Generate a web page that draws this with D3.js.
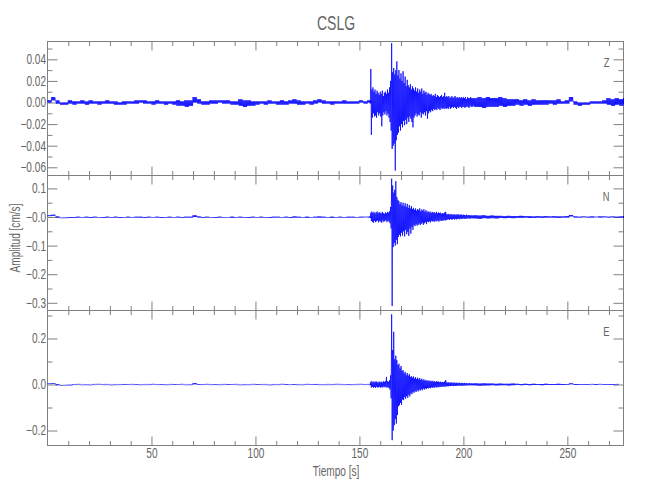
<!DOCTYPE html>
<html><head><meta charset="utf-8">
<script src="https://cdn.jsdelivr.net/npm/d3@7"></script>
<style>
html,body{margin:0;padding:0;background:#fff;}
svg{display:block;}
</style></head><body>
<svg id="c" width="650" height="500"></svg>
<script>
// ---------------- DATA (amplitudes in 10^-3 cm/s, min/max per time bin) ----------------
const unit = 0.001;
const earlyStart = 0, earlyStep = 2;     // s
const eventStart = 155, eventStep = 0.5; // s
const lateStart = 205, lateStep = 2;     // s

const zEarlyHi = [2,5,2,0,0,2,1,1,2,1, 2,1,1,1,2,1,1,0,1,1, 1,2,2,2,1,1,2,1,1,1, 1,2,1,2,2,5,3,1,1,2, 2,2,2,2,1,1,3,2,2,1, 1,1,1,2,1,1,2,1,2,3, 2,1,1,1,2,3,2,1,1,1, 1,2,1,1,1,2,1,2];
const zEarlyLo = [0,2,-1,-2,-2,-1,-2,-1,-1,-2, -1,-1,-2,-1,-1,-1,-2,-2,-2,-1, -1,-1,0,-1,-1,-2,-1,-1,-2,-1, -2,-3,-3,-4,-3,0,-1,-2,-2,-1, -1,0,-1,-1,-2,-2,-3,-4,-3,-3, -2,-1,-2,-1,-1,-2,-2,-2,-1,-1, -2,-2,-1,-2,-1,0,-1,-1,-2,-1, -1,-1,-1,-1,-1,0,-1,0];
const zEventHi = [1,31,12,14,10,12,8,11,9,7, 10,8,11,6,9,10,8,12,9,14, 20,55,28,32,26,30,38,25,30,22, 27,20,29,18,24,15,21,16,14,17, 12,15,13,11,14,10,13,9,12,10, 13,8,11,9,10,7,9,8,7,8, 6,7,6,8,5,7,6,5,6,7, 5,6,9,5,6,5,6,4,5,6, 4,5,6,4,5,4,5,4,5,4, 5,4,5,3,5,4,4,5,4,4];
const zEventLo = [-1,-30,-14,-10,-13,-12,-14,-9,-12,-10, -13,-22,-12,-9,-11,-8,-12,-10,-14,-18, -26,-43,-40,-38,-63,-35,-30,-28,-22,-26, -20,-23,-17,-21,-16,-20,-14,-18,-13,-15, -18,-23,-14,-12,-10,-13,-11,-12,-9,-14, -10,-11,-9,-12,-8,-15,-10,-8,-9,-7, -8,-6,-7,-6,-7,-5,-6,-7,-5,-6, -5,-6,-5,-6,-5,-6,-4,-6,-5,-4, -5,-4,-5,-6,-4,-5,-4,-4,-5,-4, -4,-5,-4,-4,-4,-5,-3,-4,-4,-3];
const zLateHi = [4,5,4,5,4,4,5,4,3,3, 3,2,3,2,3,2,2,2,2,2, 3,1,2,5,1,0,0,0,1,1, 1,2,4,3,4,3,4];
const zLateLo = [-4,-4,-5,-4,-4,-4,-3,-4,-3,-3, -2,-3,-2,-3,-2,-2,-2,-2,-1,-2, -1,-1,-1,1,-2,-3,-2,-2,-1,-1, -1,-1,-2,-3,-2,-3,-1];

const nEarlyHi = [6,8,2,-2,-2,0,0,1,0,1, 0,1,0,0,1,0,1,0,0,1, 0,1,1,0,1,0,1,0,0,1, 0,1,0,1,1,6,2,0,1,0, 0,1,0,0,1,0,1,0,0,1, 0,1,0,0,1,1,0,1,0,2, 1,0,1,0,1,2,1,0,1,0, 1,0,1,1,0,1,1,1];
const nEarlyLo = [3,4,-2,-4,-4,-3,-3,-2,-2,-2, -3,-2,-2,-3,-2,-2,-2,-3,-2,-2, -2,-2,-2,-3,-2,-2,-2,-3,-2,-2, -2,-2,-3,-2,-2,0,-2,-3,-2,-2, -3,-2,-2,-2,-3,-2,-2,-2,-3,-2, -2,-2,-2,-3,-2,-2,-2,-2,-3,-2, -2,-2,-3,-2,-2,-2,-2,-2,-3,-2, -2,-2,-2,-2,-2,-2,-1,-2];
const nEventHi = [2,15,19,14,18,12,16,19,13,17, 15,12,18,14,11,16,13,18,15,20, 35,134,110,85,95,125,70,60,55,45, 52,40,50,38,48,35,46,32,42,30, 38,28,32,25,30,22,28,24,30,20, 26,22,27,18,24,17,20,16,19,14, 18,15,17,13,18,12,16,14,15,11, 14,12,16,18,10,9,11,8,10,9, 8,10,7,9,8,10,7,8,9,6, 8,7,6,8,5,7,6,5,6,5];
const nEventLo = [-2,-14,-17,-20,-13,-18,-15,-12,-19,-14, -16,-20,-12,-17,-14,-11,-18,-13,-16,-22, -40,-311,-105,-90,-100,-80,-95,-70,-62,-68, -55,-65,-50,-68,-45,-60,-52,-66,-40,-58, -35,-45,-28,-32,-25,-30,-27,-22,-28,-24, -20,-27,-22,-18,-25,-16,-18,-15,-19,-13, -16,-14,-17,-12,-15,-13,-16,-11,-14,-12, -13,-10,-12,-11,-9,-8,-10,-7,-9,-8, -7,-9,-6,-8,-7,-6,-8,-5,-7,-6, -5,-7,-5,-6,-4,-5,-6,-4,-5,-4];
const nLateHi = [6,5,6,4,5,4,4,3,4,3, 3,4,3,3,2,3,2,3,2,3, 2,2,3,7,2,1,2,1,2,1, 2,2,1,2,1,2,2];
const nLateLo = [-5,-6,-4,-5,-4,-5,-3,-4,-3,-4, -3,-3,-2,-3,-3,-2,-3,-2,-2,-2, -3,-2,-2,2,-2,-2,-1,-2,-2,-1, -2,-1,-2,-1,-2,-1,-2];

const eEarlyHi = [4,6,1,-2,-2,-1,0,1,0,1, 0,1,1,0,1,0,1,0,1,0, 1,1,0,1,0,1,0,1,0,1, 1,0,1,0,1,6,2,0,1,0, 1,0,1,1,0,1,0,1,0,1, 1,0,1,0,1,0,1,1,0,2, 1,0,1,0,1,1,0,1,0,1, 1,0,1,0,1,1,0,1];
const eEarlyLo = [2,3,-3,-4,-4,-4,-2,-1,-2,-1, -2,-1,-1,-2,-1,-2,-1,-1,-2,-1, -1,-2,-1,-1,-2,-1,-1,-2,-1,-1, -2,-1,-1,-2,-1,1,-1,-2,-1,-1, -2,-1,-1,-2,-1,-1,-2,-1,-1,-1, -2,-1,-1,-2,-1,-1,-1,-2,-1,-1, -1,-2,-1,-1,-2,-1,-1,-1,-2,-1, -1,-1,-2,-1,-1,-1,-1,-1];
const eEventHi = [2,12,14,9,13,10,14,11,8,13, 10,12,9,14,11,15,33,14,12,18, 40,305,150,229,110,125,106,85,90,70, 80,60,62,48,55,40,50,38,45,33, 36,30,35,26,32,24,30,22,28,20, 25,18,22,16,20,15,18,14,17,13, 16,12,15,11,14,12,13,10,12,9, 11,10,13,19,9,8,10,7,9,8, 7,9,6,8,7,6,8,5,7,6, 5,7,5,6,4,5,6,4,5,4];
const eEventLo = [-2,-13,-10,-14,-11,-15,-9,-13,-12,-10, -14,-11,-13,-9,-12,-10,-14,-11,-16,-22, -60,-242,-200,-177,-150,-170,-133,-95,-90,-80, -88,-65,-68,-55,-62,-50,-58,-45,-52,-38, -42,-32,-36,-28,-33,-25,-30,-22,-27,-20, -25,-18,-22,-17,-20,-15,-17,-14,-16,-12, -15,-11,-14,-10,-13,-11,-12,-9,-11,-8, -10,-9,-8,-9,-7,-8,-6,-7,-6,-5, -7,-5,-6,-5,-6,-4,-5,-4,-6,-4, -5,-4,-5,-3,-4,-3,-4,-3,-4,-3];
const eLateHi = [5,4,5,4,4,3,4,3,3,4, 3,2,3,2,3,2,2,3,2,2, 3,2,2,5,2,2,1,2,1,2, 1,2,1,2,1];
const eLateLo = [-4,-5,-4,-4,-3,-4,-3,-3,-4,-3, -2,-3,-2,-3,-2,-2,-3,-2,-2,-2, -2,-2,-1,1,-2,-1,-2,-1,-1,-2, -1,-1,-2,-1,-1];

// axis ticks and labels
const channelNames = ["Z", "N", "E"];
const zTicks = [-0.06, -0.04, -0.02, 0, 0.02, 0.04];
const zTickLabels = ["\u22120.06", "\u22120.04", "\u22120.02", "0.00", "0.02", "0.04"];
const nTicks = [-0.3, -0.2, -0.1, 0, 0.1];
const nTickLabels = ["\u22120.3", "\u22120.2", "\u22120.1", "\u22120.0", "0.1"];
const eTicks = [-0.2, 0, 0.2];
const eTickLabels = ["\u22120.2", "0.0", "0.2"];
const xTicks = [50, 100, 150, 200, 250];
const xTickLabels = ["50", "100", "150", "200", "250"];
const titleText = "CSLG";
const xTitle = "Tiempo  [s]";
const yTitle = "Amplitud  [cm/s]";

// ---------------- LAYOUT ----------------
const FONT = '"Liberation Sans","Arial",sans-serif';
const AXIS = "#808080", TXT = "#666666", TRACE = "#0000ff";
const left = 47.5, right = 623.5;
const edges = [41.5, 175.5, 310.5, 445.5];
const tEnd = 277;

const svg = d3.select("#c");
const x = d3.scaleLinear().domain([0, tEnd]).range([left, right]);

function segs(eh, el, vh, vl, lh, ll) {
  return [
    {t0: earlyStart, dt: earlyStep, hi: eh, lo: el},
    {t0: eventStart, dt: eventStep, hi: vh, lo: vl},
    {t0: lateStart, dt: lateStep, hi: lh, lo: ll}
  ];
}

const panels = [
  { name: channelNames[0], domain: [-0.0676, 0.0565], ticks: zTicks, labels: zTickLabels, minorStep: 0.01,
    segs: segs(zEarlyHi, zEarlyLo, zEventHi, zEventLo, zLateHi, zLateLo) },
  { name: channelNames[1], domain: [-0.3269, 0.1451], ticks: nTicks, labels: nTickLabels, minorStep: 0.05,
    segs: segs(nEarlyHi, nEarlyLo, nEventHi, nEventLo, nLateHi, nLateLo) },
  { name: channelNames[2], domain: [-0.2652, 0.3217], ticks: eTicks, labels: eTickLabels, minorStep: 0.1,
    segs: segs(eEarlyHi, eEarlyLo, eEventHi, eEventLo, eLateHi, eLateLo) }
];

const xMinor = d3.range(10, tEnd, 10).filter(v => v % 50 !== 0);

function styleAxis(g) {
  g.select(".domain").remove();
  g.selectAll(".tick line").attr("stroke", AXIS).attr("stroke-width", 1);
  g.selectAll("text").attr("fill", TXT).attr("font-family", FONT).attr("font-size", 14);
}

panels.forEach((p, k) => {
  const top = edges[k], bottom = edges[k + 1];
  const y = d3.scaleLinear().domain(p.domain).range([bottom, top]);
  const g = svg.append("g");
  const minor = d3.range(Math.ceil(p.domain[0] / p.minorStep) * p.minorStep, p.domain[1], p.minorStep)
    .map(v => +v.toFixed(4)).filter(v => !p.ticks.some(t => Math.abs(t - v) < 1e-6));

  g.append("g").attr("transform", `translate(${left},0)`)
    .call(d3.axisLeft(y).tickValues(p.ticks).tickFormat((d, i) => p.labels[i]).tickSizeInner(-10).tickSizeOuter(0).tickPadding(1.5))
    .call(styleAxis);
  g.append("g").attr("transform", `translate(${left},0)`)
    .call(d3.axisLeft(y).tickValues(minor).tickFormat("").tickSizeInner(-5).tickSizeOuter(0))
    .call(styleAxis);
  g.append("g").attr("transform", `translate(${right},0)`)
    .call(d3.axisRight(y).tickValues(p.ticks).tickFormat("").tickSizeInner(-10).tickSizeOuter(0))
    .call(styleAxis);
  g.append("g").attr("transform", `translate(${right},0)`)
    .call(d3.axisRight(y).tickValues(minor).tickFormat("").tickSizeInner(-5).tickSizeOuter(0))
    .call(styleAxis);
  g.append("g").attr("transform", `translate(0,${top})`)
    .call(d3.axisTop(x).tickValues(xTicks).tickFormat("").tickSizeInner(-9).tickSizeOuter(0))
    .call(styleAxis);
  g.append("g").attr("transform", `translate(0,${top})`)
    .call(d3.axisTop(x).tickValues(xMinor).tickFormat("").tickSizeInner(-4.5).tickSizeOuter(0))
    .call(styleAxis);
  g.append("g").attr("transform", `translate(0,${bottom})`)
    .call(d3.axisBottom(x).tickValues(xTicks).tickFormat((d, i) => k === 2 ? xTickLabels[i] : "").tickSizeInner(-9).tickSizeOuter(0).tickPadding(3))
    .call(styleAxis);
  g.append("g").attr("transform", `translate(0,${bottom})`)
    .call(d3.axisBottom(x).tickValues(xMinor).tickFormat("").tickSizeInner(-4.5).tickSizeOuter(0))
    .call(styleAxis);

  g.append("rect").attr("x", left).attr("y", top).attr("width", right - left).attr("height", bottom - top)
    .attr("fill", "none").attr("stroke", AXIS).attr("stroke-width", 1);

  g.append("text").attr("x", 609.5).attr("y", top + 25).attr("text-anchor", "end")
    .attr("font-family", FONT).attr("font-size", 13).attr("fill", TXT).text(p.name);

  p.y = y;
});

// traces: each time bin is drawn as a min/max hatch (about one stroke per pixel column), not clipped
const HALF_STROKE_S = 0.25; // seconds between successive min/max strokes (~0.5 px)
panels.forEach(p => {
  const pts = [];
  p.segs.forEach(s => {
    const n = Math.max(1, Math.round(s.dt / (2 * HALF_STROKE_S)));
    s.hi.forEach((h, i) => {
      const t = s.t0 + i * s.dt;
      for (let j = 0; j < n; j++) {
        const tj = Math.min(tEnd, t + j * s.dt / n);
        pts.push([tj, h * unit]);
        pts.push([Math.min(tEnd, tj + s.dt / (2 * n)), s.lo[i] * unit]);
      }
    });
  });
  svg.append("path").datum(pts)
    .attr("fill", "none").attr("stroke", TRACE).attr("stroke-width", 0.75)
    .attr("d", d3.line().x(d => x(d[0])).y(d => p.y(d[1])));
});

svg.append("text").attr("x", 336).attr("y", 30).attr("text-anchor", "middle")
  .attr("font-family", FONT).attr("font-size", 19.5).attr("fill", TXT).text(titleText);
svg.append("text").attr("x", 336).attr("y", 476).attr("text-anchor", "middle")
  .attr("font-family", FONT).attr("font-size", 14).attr("fill", TXT).text(xTitle);
svg.append("text").attr("transform", "translate(20,238) rotate(-90)").attr("text-anchor", "middle")
  .attr("font-family", FONT).attr("font-size", 14).attr("fill", TXT).text(yTitle);

// condense all text horizontally to match the narrow plotting font
svg.selectAll("text").each(function () {
  const w = this.getComputedTextLength();
  if (w > 0) {
    this.setAttribute("textLength", (w * 0.72).toFixed(2));
    this.setAttribute("lengthAdjust", "spacingAndGlyphs");
  }
});
</script>
</body></html>
